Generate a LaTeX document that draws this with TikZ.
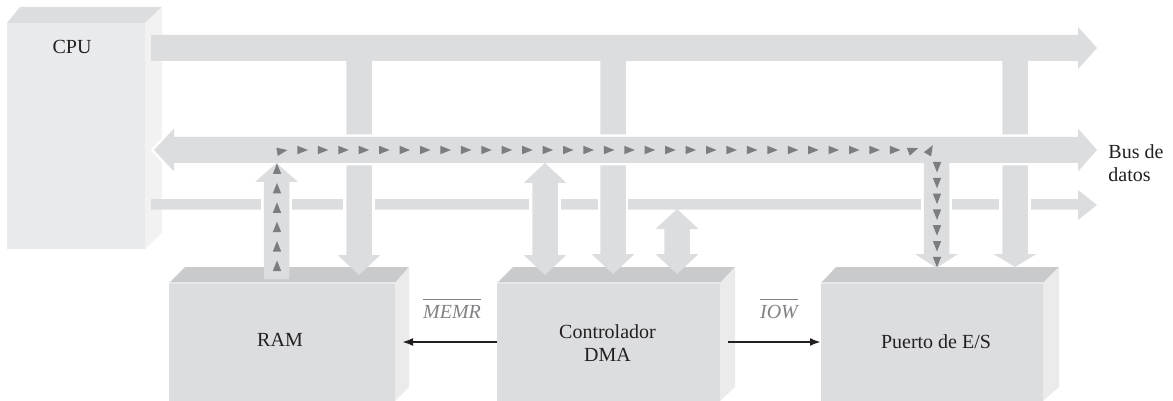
\documentclass[tikz,border=0pt]{standalone}
\usepackage{fontspec}
\setmainfont{Liberation Serif}
\usetikzlibrary{arrows.meta}
\definecolor{busc}{HTML}{DCDDDF}
\definecolor{cpufront}{HTML}{E9EAEB}
\definecolor{cputop}{HTML}{DCDDDE}
\definecolor{cpuside}{HTML}{F2F2F3}
\definecolor{boxfront}{HTML}{DCDDDF}
\definecolor{boxtop}{HTML}{C9CACC}
\definecolor{boxside}{HTML}{EBEBEC}
\definecolor{edgec}{HTML}{E7E8E9}
\definecolor{tric}{HTML}{7C7D80}
\definecolor{lblc}{HTML}{808285}
\definecolor{txtc}{HTML}{231F20}
\tikzset{
  face/.style={rectangle, inner sep=0pt, outer sep=0pt, fill=boxfront},
  topface/.style={fill=boxtop},
  sideface/.style={fill=boxside},
  sig/.style={draw=txtc, line width=1.4pt, -{Latex[length=5.5pt,width=4pt]}},
  lbl/.style={text=txtc, inner sep=0pt, font=\fontsize{10pt}{11.5pt}\selectfont, align=center},
  siglbl/.style={lbl, text=lblc},
  busgap/.style={fill=white},
}
% x, ystart, ybase, ytip
\newcommand\ShaftArr[4]{%
  \fill[busc] ({#1-12.75},#2) -- ({#1+12.75},#2) -- ({#1+12.75},#3) -- ({#1+21.5},#3)
    -- (#1,#4) -- ({#1-21.5},#3) -- ({#1-12.75},#3) -- cycle;}
% x, tip1, base1, base2, tip2
\newcommand\DblArr[5]{%
  \fill[busc] (#1,#2) -- ({#1+21.5},#3) -- ({#1+12.75},#3) -- ({#1+12.75},#4) -- ({#1+21.5},#4)
    -- (#1,#5) -- ({#1-21.5},#4) -- ({#1-12.75},#4) -- ({#1-12.75},#3) -- ({#1-21.5},#3) -- cycle;}
% x, y, visual angle
\newcommand\TriMark[3]{%
  \fill[tric] ({#1+5.5*cos(#3)},{#2-5.5*sin(#3)})
    -- ({#1-5*cos(#3)-4.2*sin(#3)},{#2+5*sin(#3)-4.2*cos(#3)})
    -- ({#1-5*cos(#3)+4.2*sin(#3)},{#2+5*sin(#3)+4.2*cos(#3)}) -- cycle;}
\begin{document}
\begin{tikzpicture}[x=0.5pt,y=-0.5pt]
\useasboundingbox (0,0) rectangle (1173,401);
% CPU
\fill[cputop] (7,23) -- (20,7) -- (162,7) -- (145,23) -- cycle;
\fill[cpuside] (145,23) -- (162,7) -- (162,233) -- (145,249) -- cycle;
\node[face, fill=cpufront, minimum width=69pt, minimum height=113pt] (cpu) at (76,136) {};
% RAM
\fill[topface] (169,283) -- (185,267) -- (409,267) -- (395,283) -- cycle;
\fill[sideface] (395,283) -- (409,267) -- (409,387) -- (395,401) -- cycle;
\node[face, minimum width=113pt, minimum height=59pt] (ram) at (282,342) {};
\draw[edgec, line width=0.6pt] (ram.north west) -- (ram.north east);
% DMA
\fill[topface] (497,283) -- (513,267) -- (735,267) -- (720,283) -- cycle;
\fill[sideface] (720,283) -- (735,267) -- (735,387) -- (720,401) -- cycle;
\node[face, minimum width=111.5pt, minimum height=59pt] (dma) at (608.5,342) {};
\draw[edgec, line width=0.6pt] (dma.north west) -- (dma.north east);
% I/O
\fill[topface] (821,283) -- (836,267) -- (1059,267) -- (1043,283) -- cycle;
\fill[sideface] (1043,283) -- (1059,267) -- (1059,387) -- (1043,401) -- cycle;
\node[face, minimum width=111pt, minimum height=59pt] (io) at (932,342) {};
\draw[edgec, line width=0.6pt] (io.north west) -- (io.north east);
% buses
\fill[busc] (151,35) -- (1078,35) -- (1078,27) -- (1097,48) -- (1078,69) -- (1078,61) -- (151,61) -- cycle;
\fill[busc] (151,199) -- (1078,199) -- (1078,190) -- (1097,205) -- (1078,220) -- (1078,209.5) -- (151,209.5) -- cycle;
\foreach \a/\b in {261/292, 343/375, 529/561, 598/628, 921/952, 999/1031}
  \fill[busgap] (\a,196) rectangle (\b,213);
\ShaftArr{359}{58}{255}{275}
\ShaftArr{613}{58}{254}{274}
\ShaftArr{1015}{58}{254}{267}
\fill[busc, preaction={draw=white, line width=2.5pt}] (154,150) -- (174,128.5) -- (174,137) -- (1078,137)
  -- (1078,128.5) -- (1097,150) -- (1078,171.5) -- (1078,163) -- (174,163) -- (174,171.5) -- cycle;
\ShaftArr{276.5}{279}{182}{163}
\DblArr{545}{163}{183}{255}{275}
\DblArr{677}{209}{229}{254}{274}
\ShaftArr{936.5}{160}{254}{268}
% data path marks
\foreach \i in {0,...,5} { \TriMark{277}{169+19.4*\i}{90} }
\TriMark{282}{151}{10}
\foreach \i in {1,...,30} { \TriMark{282+20.43*\i}{150}{0} }
\TriMark{913}{150}{20}
\TriMark{930}{150}{60}
\foreach \i in {0,...,6} { \TriMark{937}{167+15.8*\i}{-90} }
% labels
\node[lbl, anchor=base] (cpulbl) at (72,54) {CPU};
\node[lbl, anchor=base] (ramlbl) at (280,346) {RAM};
\node[lbl] (dmalbl) at (607.5,343) {Controlador\\DMA};
\node[lbl, anchor=base] (iolbl) at (936,348) {Puerto de E/S};
\node[lbl, anchor=west, align=left] (buslbl) at (1108,163.5) {Bus de\\datos};
\node[siglbl, anchor=base] (memr) at (452,318.5) {$\overline{\hbox{\itshape MEMR\strut}}$};
\node[siglbl, anchor=base] (iow) at (779,318.5) {$\overline{\hbox{\itshape IOW\strut}}$};
% signals
\draw[sig] (dma.west) -- ([xshift=3.5pt]ram.east);
\draw[sig] ([xshift=4pt]dma.east) -- (io.west);
\end{tikzpicture}
\end{document}
